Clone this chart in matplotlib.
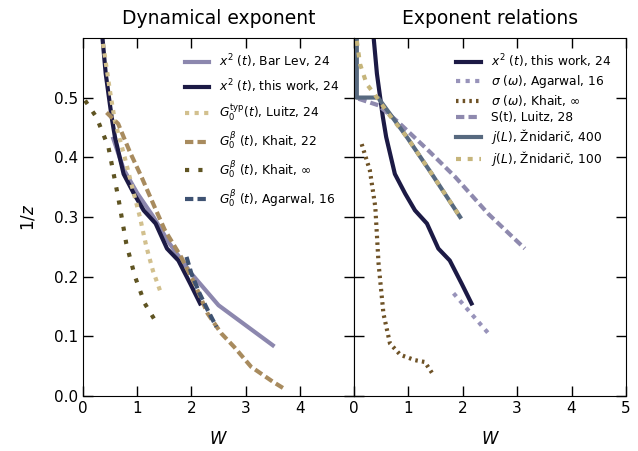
import numpy as np
import matplotlib
matplotlib.use("Agg")
import matplotlib.pyplot as plt

plt.rcParams['font.family'] = ['DejaVu Sans']
plt.rcParams['mathtext.fontset'] = 'dejavusans'

# ---- left panel: dynamical exponent ----
w_barlev = [0.56, 0.75, 1.0, 1.3, 1.6, 1.8, 2.0, 2.5, 3.5]
z_barlev = [0.431, 0.38, 0.34, 0.30, 0.255, 0.23, 0.205, 0.152, 0.085]

w_this = [0.36, 0.42, 0.48, 0.53, 0.59, 0.75, 0.94, 1.12, 1.34, 1.55, 1.76, 1.98, 2.16]
z_this = [0.60, 0.54, 0.50, 0.467, 0.434, 0.372, 0.339, 0.311, 0.289, 0.247, 0.227, 0.188, 0.155]

w_luitz_typ = [0.37, 0.50, 0.59, 0.77, 0.925, 1.05, 1.17, 1.29, 1.42]
z_luitz_typ = [0.59, 0.51, 0.46, 0.40, 0.344, 0.30, 0.25, 0.21, 0.177]

w_khait22 = [0.435, 0.65, 0.86, 1.08, 1.32, 1.51, 1.81, 2.06, 2.30, 2.55, 2.79, 3.1, 3.5, 3.75]
z_khait22 = [0.475, 0.456, 0.41, 0.367, 0.317, 0.278, 0.233, 0.188, 0.138, 0.105, 0.082, 0.049, 0.024, 0.01]

w_khait_inf = [0.04, 0.25, 0.47, 0.65, 0.80, 0.96, 1.14, 1.38]
z_khait_inf = [0.495, 0.467, 0.417, 0.333, 0.255, 0.20, 0.155, 0.119]

w_agarwal = [1.91, 2.0, 2.15, 2.3, 2.46]
z_agarwal = [0.233, 0.205, 0.172, 0.144, 0.116]

# ---- right panel: exponent relations ----
w_sig_agarwal = [1.83, 2.47]
z_sig_agarwal = [0.172, 0.105]

w_sig_khait = [0.14, 0.29, 0.39, 0.45, 0.54, 0.66, 0.85, 1.12, 1.30, 1.46]
z_sig_khait = [0.422, 0.378, 0.317, 0.222, 0.138, 0.088, 0.069, 0.06, 0.057, 0.035]

w_s_luitz = [0.08, 0.45, 0.81, 1.37, 1.86, 2.47, 3.14]
z_s_luitz = [0.498, 0.487, 0.459, 0.411, 0.367, 0.305, 0.247]

w_j400 = [0.05, 0.05, 0.44, 0.52, 0.97, 1.43, 1.95]
z_j400 = [0.60, 0.50, 0.50, 0.49, 0.434, 0.372, 0.30]

w_j100 = [0.05, 0.11, 0.23, 0.42, 0.63, 0.97, 1.43, 1.95]
z_j100 = [0.595, 0.556, 0.523, 0.50, 0.473, 0.434, 0.372, 0.30]

fig = plt.figure(figsize=(6.38, 4.51), dpi=100)
ax1 = fig.add_axes([0.130, 0.122, 0.425, 0.794])
ax2 = fig.add_axes([0.555, 0.122, 0.426, 0.794])

lw = 3
ax1.plot(w_barlev, z_barlev, color='#8c87ae', lw=lw, label=r'$x^2$ $(t)$, Bar Lev, 24')
ax1.plot(w_this, z_this, color='#1c1a45', lw=lw, label=r'$x^2$ $(t)$, this work, 24')
ax1.plot(w_luitz_typ, z_luitz_typ, color='#d2c08e', lw=lw, dashes=(1.0, 1.3),
         label=r'$G_0^{\rm typ}(t)$, Luitz, 24')
ax1.plot(w_khait22, z_khait22, color='#a88b5e', lw=lw, dashes=(2.0, 1.0),
         label=r'$G_0^{\beta}$ $(t)$, Khait, 22')
ax1.plot(w_khait_inf, z_khait_inf, color='#5f5422', lw=lw, dashes=(1.0, 2.2),
         label=r'$G_0^{\beta}$ $(t)$, Khait, $\infty$')
ax1.plot(w_agarwal, z_agarwal, color='#3e5272', lw=lw, dashes=(2.0, 1.0),
         label=r'$G_0^{\beta}$ $(t)$, Agarwal, 16')

ax2.plot(w_this, z_this, color='#1c1a45', lw=lw, label=r'$x^2$ $(t)$, this work, 24')
ax2.plot(w_sig_agarwal, z_sig_agarwal, color='#9893ba', lw=lw, dashes=(1.0, 1.3),
         label=r'$\sigma$ $(\omega)$, Agarwal, 16')
ax2.plot(w_sig_khait, z_sig_khait, color='#6e5226', lw=lw, dashes=(0.6, 1.0),
         label=r'$\sigma$ $(\omega)$, Khait, $\infty$')
ax2.plot(w_s_luitz, z_s_luitz, color='#8e89ae', lw=lw, dashes=(2.0, 1.0),
         label='S(t), Luitz, 28')
ax2.plot(w_j400, z_j400, color='#57697f', lw=lw, label=r'$j(L)$, Žnidarič, 400')
ax2.plot(w_j100, z_j100, color='#c6b57b', lw=lw, dashes=(1.2, 1.6),
         label=r'$j(L)$, Žnidarič, 100')

for ax in (ax1, ax2):
    ax.set_xlim(0, 5)
    ax.set_ylim(0, 0.6)
    ax.set_yticks([0.0, 0.1, 0.2, 0.3, 0.4, 0.5])
    ax.tick_params(direction='in', top=True, right=True, length=7, width=1,
                   labelsize=11)
    ax.set_xlabel(r'$W$', fontsize=12, labelpad=10)

ax1.legend(loc='upper right', frameon=False, fontsize=8.8, handlelength=2.0,
           labelspacing=0.6, borderaxespad=0.8)
ax2.legend(loc='upper right', frameon=False, fontsize=8.8, handlelength=2.0,
           labelspacing=0.25, borderaxespad=0.8)

ax1.set_xticks([0, 1, 2, 3, 4])
ax2.set_xticks([0, 1, 2, 3, 4, 5])
ax1.set_yticklabels(['0.0', '0.1', '0.2', '0.3', '0.4', '0.5'])
ax2.tick_params(labelleft=False)
ax1.set_ylabel(r'$1/z$', fontsize=12, labelpad=12)

ax1.set_title('Dynamical exponent', fontsize=13.5, pad=10)
ax2.set_title('Exponent relations', fontsize=13.5, pad=10)

fig.savefig('out.png', dpi=100)
